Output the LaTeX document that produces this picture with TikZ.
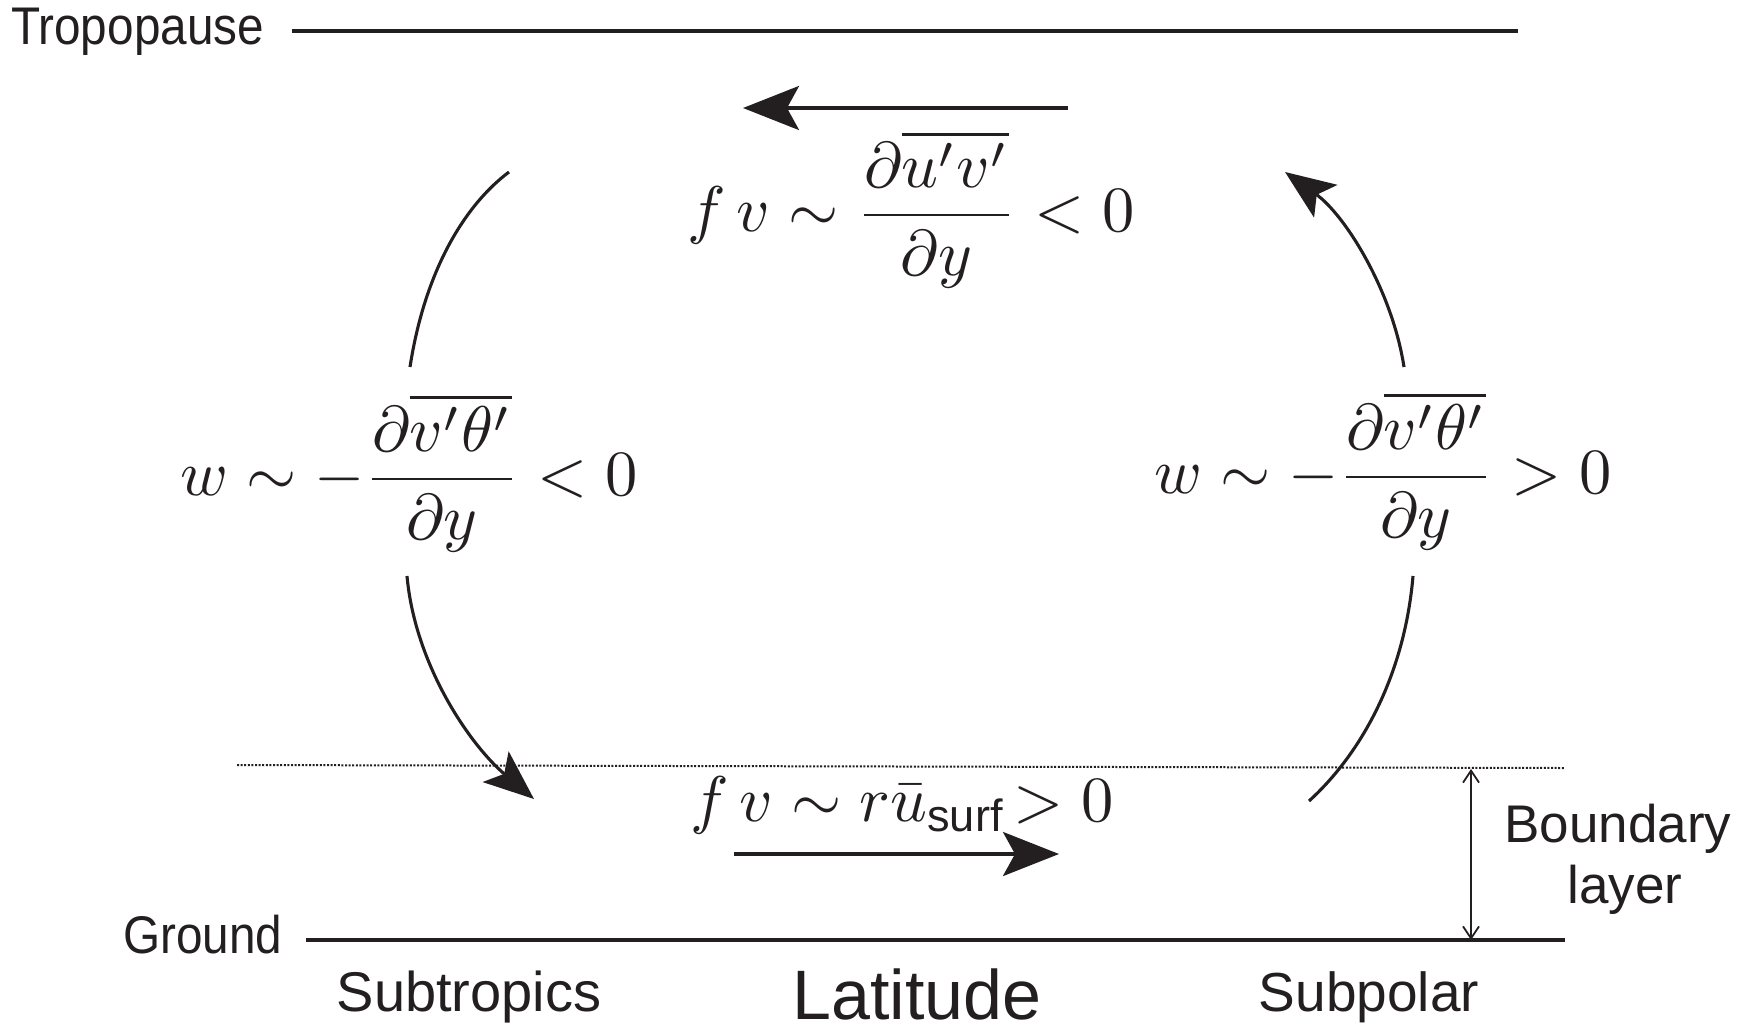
\documentclass[tikz,border=0pt]{standalone}
\usepackage{amsmath}
\usepackage{fontspec}
\newfontfamily\lab{Liberation Sans}
\newfontfamily\labn[FakeStretch=0.9]{Liberation Sans}
\usetikzlibrary{arrows.meta}
\definecolor{ink}{HTML}{231F20}
\begin{document}
\begin{tikzpicture}[x=1pt,y=-1pt,
  lbl/.style={inner sep=0, text=ink},
  mth/.style={inner sep=0, text=ink, scale=6.45, anchor=base},
  level/.style={draw=ink, line width=3.3pt},
  flow/.style={draw=ink, line width=3.6pt, -{Stealth[length=56pt,width=44pt,inset=12pt]}},
  cflow/.style={draw=ink, line width=3.1pt, -{Stealth[length=50pt,width=40pt,inset=11pt]}},
  arcline/.style={draw=ink, line width=3.1pt},
  bl/.style={draw=ink, line width=2pt, dash pattern=on 2pt off 1.6pt},
  dim/.style={draw=ink, line width=1.8pt, {Straight Barb[length=12pt,width=16pt]}-{Straight Barb[length=12pt,width=16pt]}}]
\useasboundingbox (0,0) rectangle (1744,1026);

% labels
\node[lbl, font=\labn\fontsize{53}{62}\selectfont, anchor=base west] (tropo) at (11,44) {Tropopause};
\node[lbl, font=\labn\fontsize{53}{62}\selectfont, anchor=base west] (ground) at (123,953) {Ground};
\node[lbl, font=\lab\fontsize{56}{66}\selectfont, anchor=base] (subtrop) at (469,1011) {Subtropics};
\node[lbl, font=\lab\fontsize{70}{80}\selectfont, anchor=base] (lat) at (917,1019) {Latitude};
\node[lbl, font=\lab\fontsize{55}{66}\selectfont, anchor=base] (subpol) at (1369,1011) {Subpolar};
\node[lbl, font=\lab\fontsize{53}{64}\selectfont, anchor=base] (bound) at (1618,842) {Boundary};
\node[lbl, font=\lab\fontsize{53}{64}\selectfont, anchor=base] (layer) at (1625,903) {layer};

% levels
\coordinate (tpL) at (292,31);
\coordinate (tpR) at (1518,31);
\draw[level] (tpL) -- (tpR);
\coordinate (gL) at (306,940);
\coordinate (gR) at (1565,940);
\draw[level] (gL) -- (gR);
\coordinate (blL) at (237,765);
\coordinate (blR) at (1565,768);
\draw[bl] (blL) -- (blR);
\coordinate (dimT) at (1471,769);
\coordinate (dimB) at (1471,940);
\draw[dim] (dimT) -- (dimB);

% formulas
\node[mth] (top) at (911,231) {$f\,v \sim \dfrac{\partial\overline{u'v'}}{\partial y} < 0$};
\node[mth] (left) at (409,495) {$w \sim -\dfrac{\partial\overline{v'\theta'}}{\partial y} < 0$};
\node[mth] (right) at (1383,493) {$w \sim -\dfrac{\partial\overline{v'\theta'}}{\partial y} > 0$};
\node[mth] (bottom) at (902,821) {$f\,v \sim r\bar{u}_{\text{\lab surf}} \!> 0$};

% straight arrows
\coordinate (ta1) at (1068,108);
\coordinate (ta2) at (743,108);
\draw[flow] (ta1) -- (ta2);
\coordinate (ba1) at (734,854);
\coordinate (ba2) at (1059,854);
\draw[flow] (ba1) -- (ba2);

% circulation arcs
\coordinate (lu1) at (410,367);
\coordinate (lu2) at (509,172);
\draw[arcline] (lu1) .. controls (425,270) and (465,205) .. (lu2);
\coordinate (ll1) at (407,576);
\coordinate (ll2) at (534,799);
\draw[cflow] (ll1) .. controls (415,665) and (470,745) .. (ll2);
\coordinate (rl1) at (1413,576);
\coordinate (rl2) at (1309,801);
\draw[arcline] (rl1) .. controls (1405,670) and (1365,750) .. (rl2);
\coordinate (ru1) at (1404,367);
\coordinate (ru2) at (1285,172);
\draw[cflow] (ru1) .. controls (1392,290) and (1345,215) .. (ru2);
\end{tikzpicture}
\end{document}
